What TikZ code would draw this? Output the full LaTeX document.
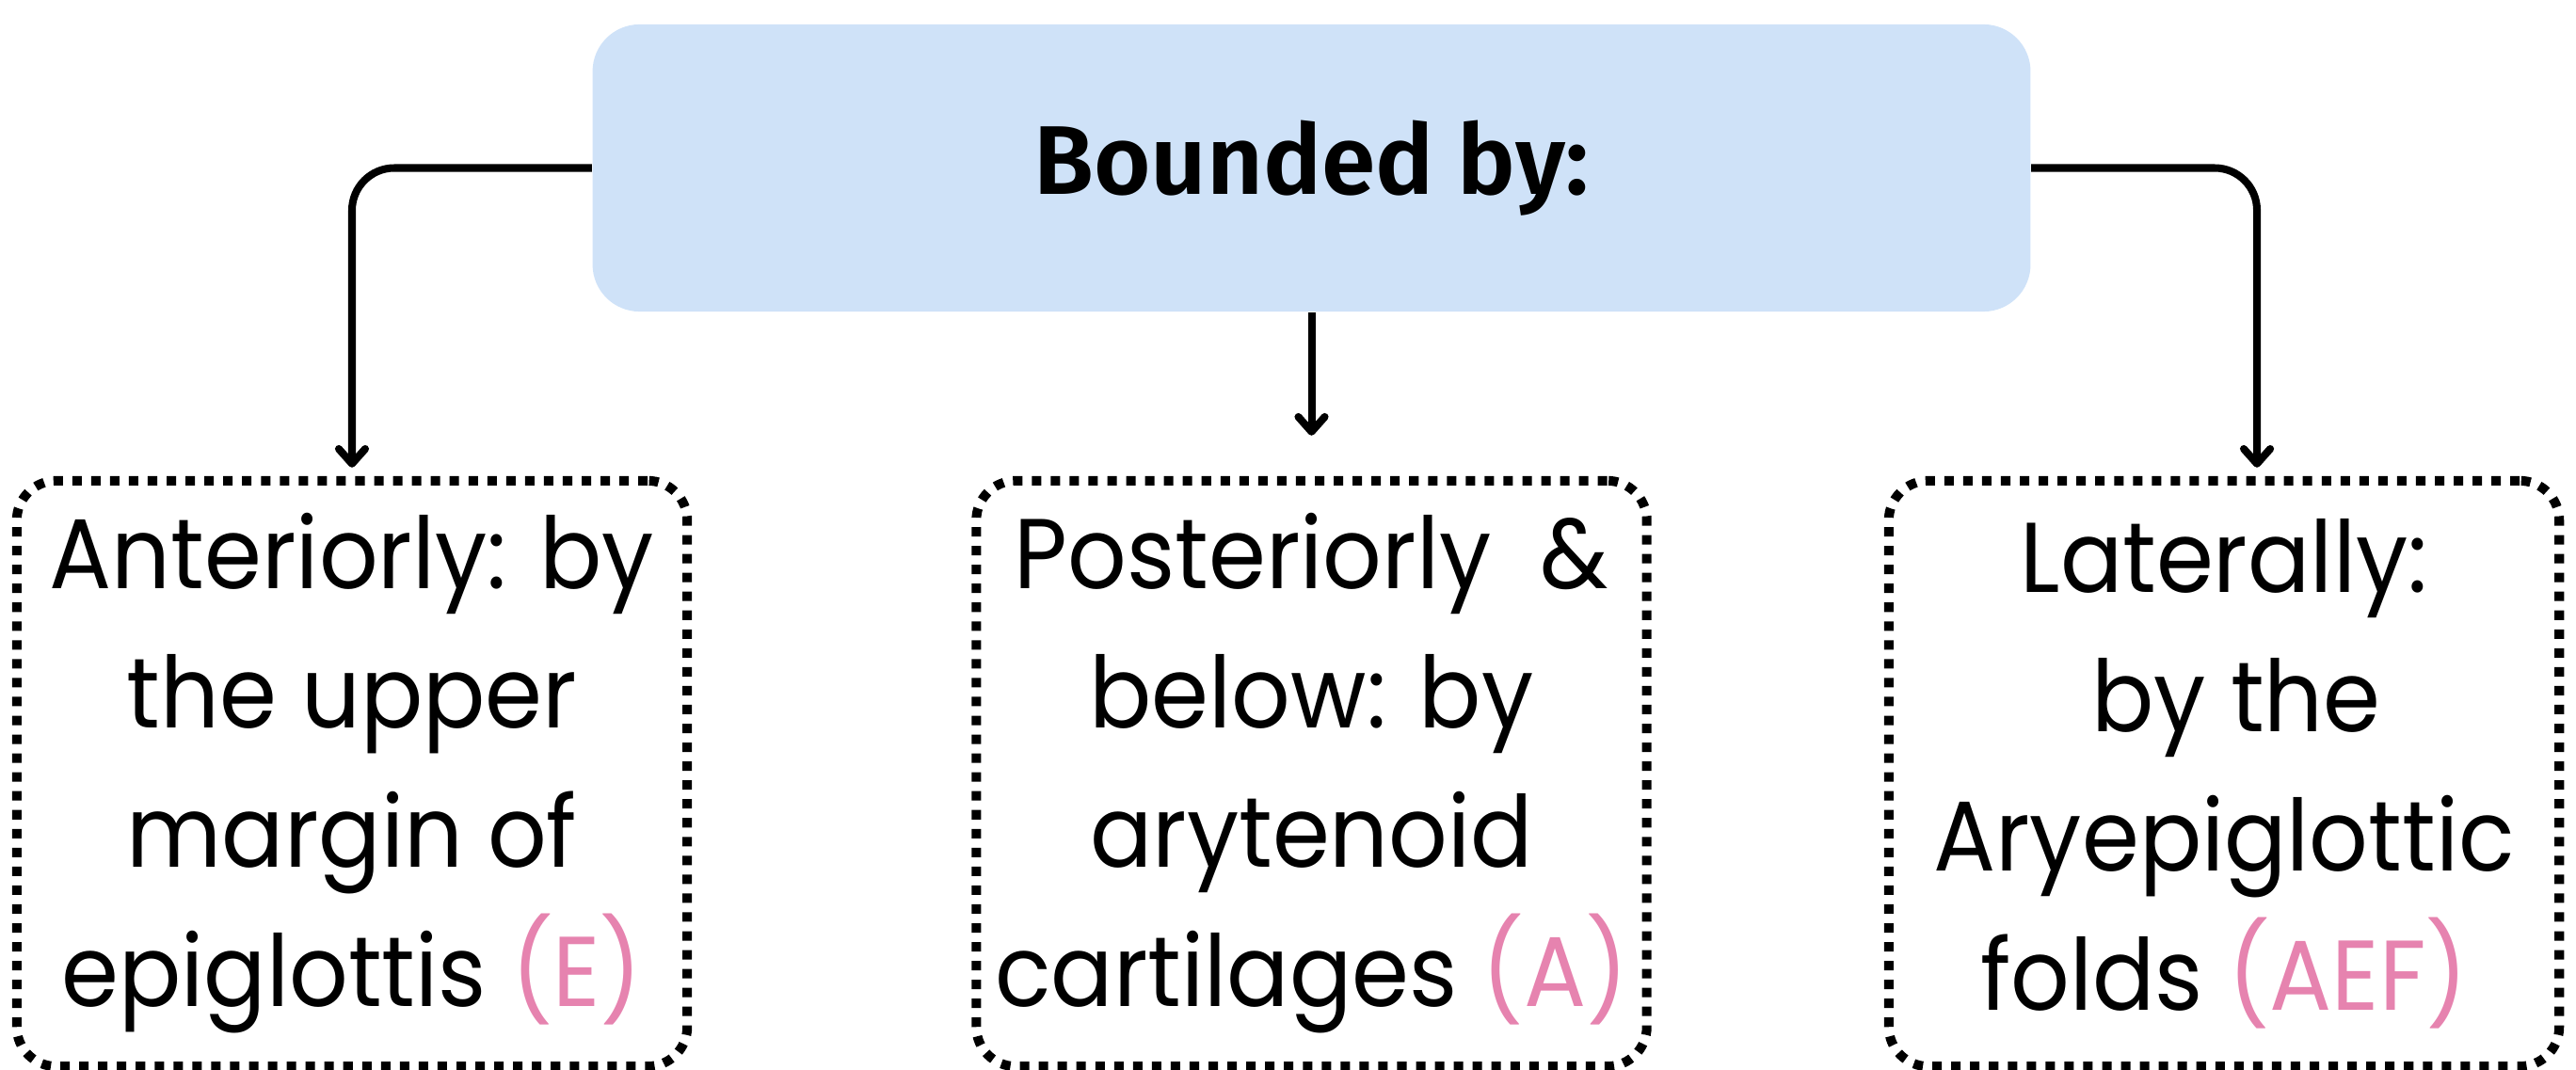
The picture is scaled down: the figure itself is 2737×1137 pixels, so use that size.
\documentclass[tikz,border=0pt]{standalone}
\usepackage{fontspec}
\setmainfont{Poppins}[FakeStretch=0.93]
\newfontfamily\headfont{Fira Sans}[BoldFont={* SemiBold}]
\usetikzlibrary{arrows.meta}
\definecolor{headblue}{HTML}{CFE2F8}
\definecolor{tagpink}{HTML}{E683AF}
\newcommand{\tagtext}[1]{\textcolor{tagpink}{#1}}

\begin{document}
\begin{tikzpicture}[x=0.01cm, y=-0.01cm,
  headbox/.style={fill=headblue, rounded corners=0.5cm,
    minimum width=15.27cm, minimum height=3.05cm, inner sep=0pt},
  dotbox/.style={draw, line width=2.85pt, dash pattern=on 2.85pt off 2.85pt,
    rounded corners=0.42cm, minimum width=7.12cm, minimum height=6.22cm,
    inner sep=0pt, align=center, font=\fontsize{30}{42.1}\selectfont},
  link/.style={line width=2.28pt, rounded corners=0.45cm,
    -{Straight Barb[length=4.5pt, width=8pt, line cap=round, line join=round]}}
]
\useasboundingbox (0,0) rectangle (2737,1137);

% heading box
\node[headbox] (head) at (1393.5,178.5)
  {\headfont\bfseries\fontsize{29.5}{36}\selectfont Bounded by:};

% the three boundary boxes
\node[dotbox] (ant) at (374,822)
  {Anteriorly: by\\the upper\\margin of\\epiglottis \tagtext{(E)}};
\node[dotbox] (post) at (1393.5,822)
  {Posteriorly \ \&\\below: by\\arytenoid\\cartilages \tagtext{(A)}};
\node[dotbox] (lat) at (2363,822)
  {Laterally:\\\ by the\\Aryepiglottic\\folds \tagtext{(AEF)}};

% connectors
\draw[link, shorten >=0.09cm] (head.west) -| (ant.north);
\draw[link, shorten >=0.43cm] (head.south) -- (post.north);
\draw[link, shorten >=0.09cm] (head.east) -| ([xshift=0.35cm]lat.north);
\end{tikzpicture}
\end{document}
